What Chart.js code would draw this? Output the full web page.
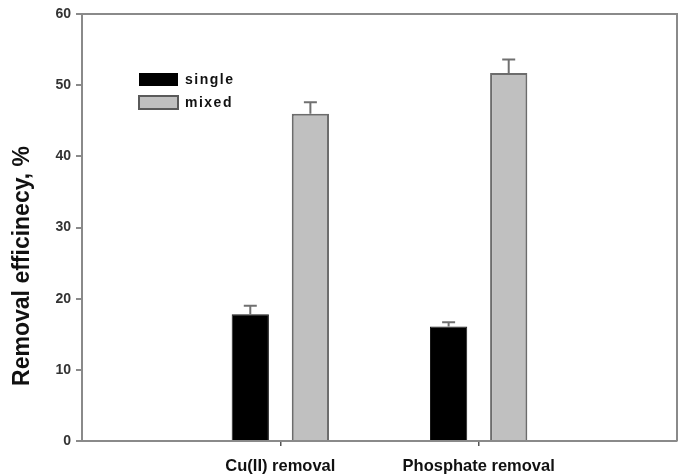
<!DOCTYPE html>
<html>
<head>
<meta charset="utf-8">
<script src="https://cdn.jsdelivr.net/npm/chart.js@4/dist/chart.umd.min.js"></script>
<style>
  html, body { margin: 0; padding: 0; background: #fff; }
  #wrap { width: 685px; height: 474px; position: relative; }
</style>
</head>
<body>
<div id="wrap"><canvas id="c" width="685" height="474"></canvas></div>
<script>
// ---- data ----
const categories = ['Cu(II) removal', 'Phosphate removal'];
const seriesNames = ['single', 'mixed'];
const singleValues = [17.8, 16.1];
const mixedValues = [46.0, 51.7];
const singleErrors = [1.2, 0.6];
const mixedErrors = [1.6, 1.9];
const yTicks = [0, 10, 20, 30, 40, 50, 60];
const yAxisTitle = 'Removal efficinecy, %';

// pad with empty slots at both ends so the categories sit at 1/3 and 2/3
const labels = ['', ...categories, ''];
const pad = arr => [null, ...arr, null];

const AXIS = '#8a8a8a';

const errorBars = {
  id: 'errorBars',
  afterDatasetsDraw(chart) {
    const ctx = chart.ctx;
    const yScale = chart.scales.y;
    chart.data.datasets.forEach((ds, di) => {
      const meta = chart.getDatasetMeta(di);
      if (meta.hidden) return;
      meta.data.forEach((el, i) => {
        const v = ds.data[i], e = ds.errors[i];
        if (v == null || e == null) return;
        const yTop = yScale.getPixelForValue(v + e);
        ctx.save();
        ctx.strokeStyle = '#707070';
        ctx.lineWidth = 2;
        ctx.beginPath();
        ctx.moveTo(el.x, el.y);
        ctx.lineTo(el.x, yTop);
        ctx.moveTo(el.x - 6.5, yTop);
        ctx.lineTo(el.x + 6.5, yTop);
        ctx.stroke();
        ctx.restore();
      });
    });
  }
};

const frame = {
  id: 'frame',
  afterDraw(chart) {
    const {ctx, chartArea: a} = chart;
    ctx.save();
    ctx.strokeStyle = AXIS;
    ctx.lineWidth = 2;
    ctx.beginPath();
    ctx.moveTo(a.left, a.top);
    ctx.lineTo(a.right, a.top);
    ctx.lineTo(a.right, a.bottom);
    ctx.stroke();
    ctx.restore();
  }
};

const yTitle = {
  id: 'yTitle',
  afterDraw(chart) {
    const {ctx, chartArea: a} = chart;
    ctx.save();
    ctx.translate(23, a.top + (a.bottom - a.top) * 0.59);
    ctx.rotate(-Math.PI / 2);
    ctx.fillStyle = '#111';
    ctx.font = 'bold 23px "Liberation Sans", Arial, sans-serif';
    ctx.textAlign = 'center';
    ctx.textBaseline = 'middle';
    ctx.fillText(yAxisTitle, 0, 0);
    ctx.restore();
  }
};

const insideLegend = {
  id: 'insideLegend',
  afterDraw(chart) {
    const {ctx, chartArea: a} = chart;
    ctx.save();
    chart.data.datasets.forEach((ds, i) => {
      const x = a.left + 57, y = a.top + 59 + i * 23;
      ctx.fillStyle = ds.backgroundColor;
      ctx.fillRect(x, y, 39, 13);
      if (i > 0) {
        ctx.strokeStyle = '#5a5a5a';
        ctx.lineWidth = 2;
        ctx.strokeRect(x, y, 39, 13);
      }
      ctx.fillStyle = '#111';
      ctx.font = 'bold 14px "Liberation Sans", Arial, sans-serif';
      ctx.textBaseline = 'middle';
      ctx.textAlign = 'left';
      try { ctx.letterSpacing = '1.5px'; } catch (e) {}
      ctx.fillText(ds.label, x + 46, y + 7);
    });
    ctx.restore();
  }
};

new Chart(document.getElementById('c'), {
  type: 'bar',
  data: {
    labels: labels,
    datasets: [
      {
        label: seriesNames[0],
        data: pad(singleValues),
        errors: pad(singleErrors),
        backgroundColor: '#000000',
        borderColor: '#1a1a1a',
        borderWidth: 1,
        categoryPercentage: 0.606,
        barPercentage: 0.62
      },
      {
        label: seriesNames[1],
        data: pad(mixedValues),
        errors: pad(mixedErrors),
        backgroundColor: '#c0c0c0',
        borderColor: '#6c6c6c',
        borderWidth: 2,
        categoryPercentage: 0.606,
        barPercentage: 0.62
      }
    ]
  },
  options: {
    responsive: false,
    animation: false,
    devicePixelRatio: 1,
    layout: { padding: { top: 14, right: 8, left: 0, bottom: 0 } },
    plugins: {
      legend: { display: false },
      tooltip: { enabled: false }
    },
    scales: {
      x: {
        type: 'category',
        offset: false,
        grid: {
          offset: false,
          drawOnChartArea: false,
          drawTicks: true,
          tickLength: 5,
          lineWidth: 1.5,
          tickColor: ctx => (ctx.index === 0 || ctx.index === labels.length - 1) ? 'rgba(0,0,0,0)' : '#555'
        },
        border: { color: AXIS, width: 2 },
        ticks: {
          autoSkip: false,
          maxRotation: 0,
          padding: 11,
          color: '#111',
          font: { family: '"Liberation Sans", Arial, sans-serif', size: 16.5, weight: 'bold' }
        },
        afterFit: s => { s.height = 33; s.paddingLeft = 0; s.paddingRight = 0; }
      },
      y: {
        min: 0,
        max: 60,
        afterBuildTicks: s => { s.ticks = yTicks.map(v => ({ value: v })); },
        grid: {
          drawOnChartArea: false,
          drawTicks: true,
          tickLength: 6,
          lineWidth: 2,
          tickColor: AXIS
        },
        border: { color: AXIS, width: 2 },
        ticks: {
          padding: 5,
          color: '#333',
          font: { family: '"Liberation Sans Narrow", "Liberation Sans", Arial, sans-serif', size: 14, weight: 'bold' }
        },
        title: { display: false },
        afterFit: s => { s.width = 82; }
      }
    }
  },
  plugins: [errorBars, frame, yTitle, insideLegend]
});
</script>
</body>
</html>
